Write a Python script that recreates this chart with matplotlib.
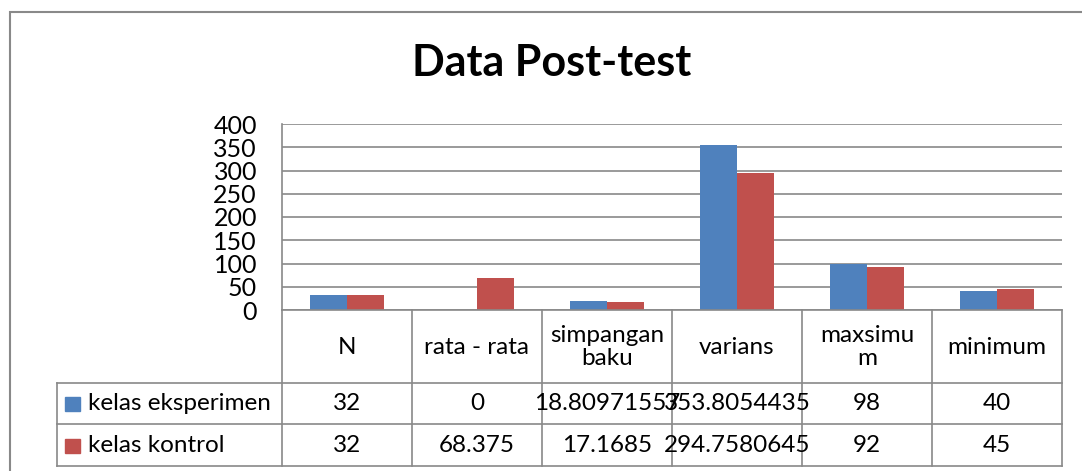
import matplotlib.pyplot as plt
import matplotlib.transforms as mtransforms
from matplotlib.lines import Line2D
from matplotlib.patches import Rectangle
import numpy as np

plt.rcParams['font.family'] = ['Lato', 'DejaVu Sans']

categories = ["N", "rata - rata", "simpangan\nbaku", "varians", "maxsimu\nm", "minimum"]
series_names = ["kelas eksperimen", "kelas kontrol"]
eksperimen = [32, 0, 18.80971557, 353.8054435, 98, 40]
kontrol = [32, 68.375, 17.1685, 294.7580645, 92, 45]
colors = ["#4F81BD", "#C0504D"]
grey = "#898989"

W, H = 1082, 471
fig = plt.figure(figsize=(W / 100, H / 100), dpi=100)


def fx(px):
    return px / W


def fy(py):
    return 1 - py / H


# outer chart frame (cut off on the right and bottom)
fig.add_artist(Rectangle((fx(10), fy(490)), fx(1100) - fx(10), fy(12) - fy(490),
                         transform=fig.transFigure, fill=False, edgecolor=grey, lw=1.5))

fig.text(fx(552), fy(63), "Data Post-test", ha="center", va="center",
         fontsize=31, fontweight="bold")

ax = fig.add_axes([fx(282), fy(310), fx(1062) - fx(282), fy(124) - fy(310)])
x = np.arange(len(categories))
bw = 1 / 3.5
ax.bar(x - bw / 2, eksperimen, bw, color=colors[0])
ax.bar(x + bw / 2, kontrol, bw, color=colors[1])
ax.set_xlim(-0.5, len(categories) - 0.5)
ax.set_ylim(0, 400)
ax.set_yticks(range(0, 401, 50))
ax.set_xticks([])
ax.yaxis.grid(True, color=grey, lw=1.2)
ax.set_axisbelow(True)
for s in ["top", "right"]:
    ax.spines[s].set_visible(False)
for s in ["left", "bottom"]:
    ax.spines[s].set_color(grey)
    ax.spines[s].set_linewidth(1.2)
ax.tick_params(axis="y", length=0, pad=18, labelsize=18)

# data table below the axis
tr = mtransforms.blended_transform_factory(ax.transData, fig.transFigure)
figtr = fig.transFigure
for py in [383, 424, 466]:
    fig.add_artist(Line2D([fx(57), fx(1062)], [fy(py), fy(py)], color=grey, lw=1.2, transform=figtr))
fig.add_artist(Line2D([fx(57), fx(57)], [fy(383), fy(466)], color=grey, lw=1.2, transform=figtr))
for i in range(len(categories) + 1):
    ax.add_line(Line2D([i - 0.5, i - 0.5], [fy(310), fy(466)], color=grey, lw=1.2,
                       transform=tr, clip_on=False))

for i, cat in enumerate(categories):
    ax.text(i, fy(347), cat, transform=tr, ha="center", va="center", fontsize=17.5,
            linespacing=1.15)
    for vals, py in [(eksperimen, 404), (kontrol, 446)]:
        ax.text(i, fy(py), f"{vals[i]:.10g}", transform=tr, ha="center", va="center",
                fontsize=17.5)

for name, col, py in [(series_names[0], colors[0], 404), (series_names[1], colors[1], 446)]:
    fig.add_artist(Rectangle((fx(65), fy(py + 7)), fx(15), fy(py - 7) - fy(py + 7),
                             transform=figtr, color=col))
    fig.text(fx(88), fy(py), name, ha="left", va="center", fontsize=17.5)

fig.savefig("out.png", dpi=100)
